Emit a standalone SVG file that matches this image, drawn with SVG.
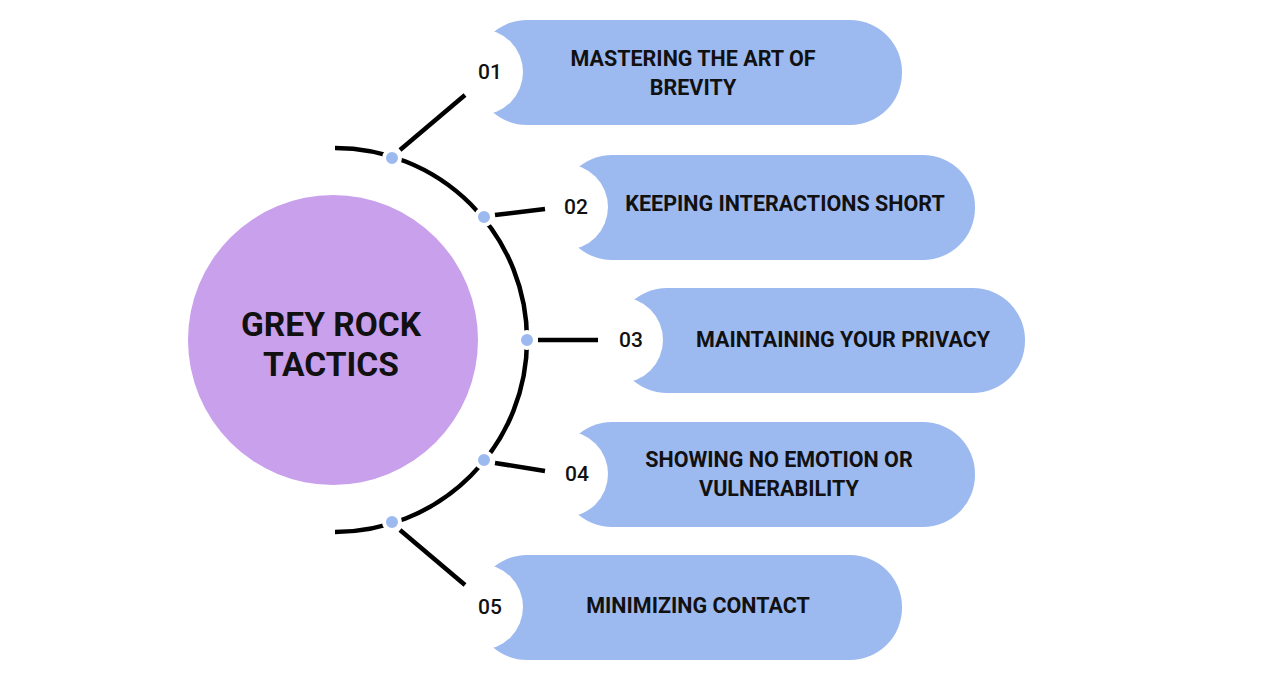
<svg xmlns="http://www.w3.org/2000/svg" width="1280" height="700" viewBox="0 0 1280 700">
<style>
.pill{fill:#9DBAF0}
.notch{fill:#fff}
.num{font-family:Roboto,"Liberation Sans",sans-serif;font-size:21px;font-weight:500;fill:#111;text-anchor:middle}
.lbl{font-family:Roboto,"Liberation Sans",sans-serif;font-size:21.5px;font-weight:700;fill:#111;text-anchor:middle}
.ln{stroke:#000;stroke-width:4.5;fill:none}
.dot{fill:#9DBAF0;stroke:#fff;stroke-width:4}
</style>
<rect width="1280" height="700" fill="#fff"/>
<g id="center"><circle cx="333" cy="340" r="145" fill="#C9A0EC"/>
<text class="lbl" x="331" y="336" style="font-size:33.5px">GREY ROCK</text>
<text class="lbl" x="331" y="376" style="font-size:33.5px">TACTICS</text></g>
<g id="n1"><rect class="pill" x="475" y="20" width="427" height="105" rx="52"/><circle class="notch" cx="480" cy="72" r="43"/>
<text class="num" x="490" y="79">01</text><text class="lbl" x="693" y="66">MASTERING THE ART OF</text><text class="lbl" x="693" y="95">BREVITY</text></g>
<g id="n2"><rect class="pill" x="560" y="155" width="415" height="105" rx="52"/><circle class="notch" cx="565" cy="207" r="43"/>
<text class="num" x="576" y="214">02</text><text class="lbl" x="785" y="211">KEEPING INTERACTIONS SHORT</text></g>
<g id="n3"><rect class="pill" x="615" y="288" width="410" height="105" rx="52"/><circle class="notch" cx="620" cy="340" r="43"/>
<text class="num" x="631" y="347">03</text><text class="lbl" x="843" y="347">MAINTAINING YOUR PRIVACY</text></g>
<g id="n4"><rect class="pill" x="560" y="422" width="415" height="105" rx="52"/><circle class="notch" cx="565" cy="474" r="43"/>
<text class="num" x="577" y="481">04</text><text class="lbl" x="779" y="467">SHOWING NO EMOTION OR</text><text class="lbl" x="779" y="496">VULNERABILITY</text></g>
<g id="n5"><rect class="pill" x="475" y="555" width="427" height="105" rx="52"/><circle class="notch" cx="480" cy="607" r="43"/>
<text class="num" x="490" y="614">05</text><text class="lbl" x="698" y="613">MINIMIZING CONTACT</text></g>
<g id="connectors">
<path class="ln" d="M335 148 A192 192 0 0 1 335 532"/>
<line class="ln" x1="400" y1="150" x2="465" y2="95"/>
<line class="ln" x1="495" y1="215" x2="545" y2="209"/>
<line class="ln" x1="538" y1="340" x2="598" y2="340"/>
<line class="ln" x1="495" y1="463" x2="545" y2="471"/>
<line class="ln" x1="400" y1="530" x2="465" y2="585"/>
<circle class="dot" cx="392" cy="158" r="8"/>
<circle class="dot" cx="484" cy="217" r="8"/>
<circle class="dot" cx="527" cy="340" r="8"/>
<circle class="dot" cx="484" cy="460" r="8"/>
<circle class="dot" cx="392" cy="522" r="8"/>
</g>
</svg>
